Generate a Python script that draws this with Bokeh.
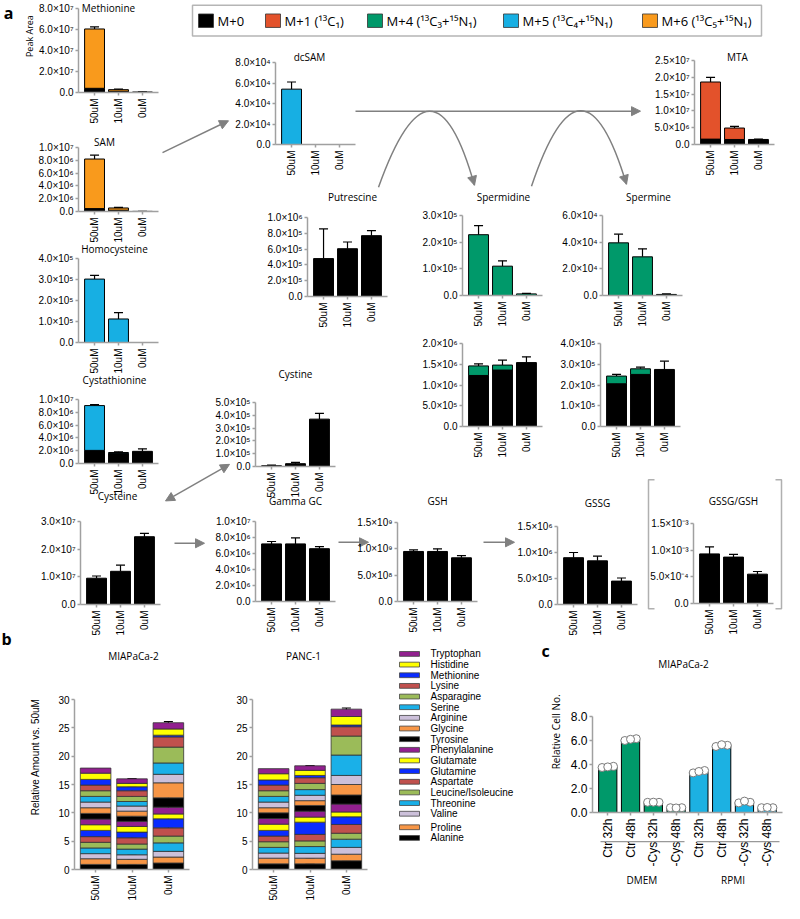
import math
import numpy as np
from bokeh.plotting import figure
from bokeh.models import (GridBox, Range1d, FactorRange, ColumnDataSource, Whisker, TeeHead,
                          FixedTicker, CustomJSTickFormatter, NumeralTickFormatter, Arrow, NormalHead)
from bokeh.transform import dodge
from bokeh.core.properties import value
from bokeh.embed import file_html
from bokeh.resources import INLINE

W, H, OFF = 784, 903, 8
SANS = "Open Sans"
ARIAL = "Liberation Sans"
AXIS_GREY = "#a0a0a0"
ARROW_GREY = "#808080"

# ---------------- data ----------------
conds = ["50uM", "10uM", "0uM"]

iso_keys = ["M0", "M1", "M4", "M5", "M6"]
iso_labels = ["M+0", "M+1 (¹³C₁)", "M+4 (¹³C₃+¹⁵N₁)", "M+5 (¹³C₄+¹⁵N₁)", "M+6 (¹³C₅+¹⁵N₁)"]
iso_colors = ["#000000", "#e3522b", "#00996a", "#17afe3", "#f99a1c"]
ISO = dict(zip(iso_keys, iso_colors))

methionine_m0 = [4.0e6, 1.2e6, 0.5e6]
methionine_m6 = [5.65e7, 1.5e6, 0.0]
methionine_err = [6.25e7, 3.3e6, 0.7e6]

sam_m0 = [4.5e5, 2.0e5, 2.0e4]
sam_m6 = [7.75e6, 3.5e5, 0.0]
sam_err = [8.8e6, 6.3e5, 4.0e4]

homocysteine_m5 = [3.02e5, 1.12e5, 0.0]
homocysteine_err = [3.2e5, 1.42e5, 0.0]

cystathionine_m0 = [2.05e6, 1.55e6, 1.9e6]
cystathionine_m0_err = [2.2e6, 1.7e6, 2.3e6]
cystathionine_m5 = [7.0e6, 0.17e6, 0.0]
cystathionine_err = [9.2e6, 1.82e6, 0.0]

cysteine_m0 = [9.5e6, 1.2e7, 2.45e7]
cysteine_err = [1.03e7, 1.42e7, 2.57e7]

dcsam_m5 = [5.4e4, 0.0, 0.0]
dcsam_err = [6.1e4, 0.0, 0.0]

mta_m0 = [1.6e6, 1.5e6, 1.5e6]
mta_m1 = [1.7e7, 3.4e6, 0.0]
mta_err = [2.0e7, 5.4e6, 1.6e6]

putrescine_m0 = [4.8e5, 6.05e5, 7.7e5]
putrescine_err = [8.55e5, 6.9e5, 8.35e5]

spermidine_m4 = [2.28e5, 1.1e5, 6.0e3]
spermidine_err = [2.62e5, 1.3e5, 8.0e3]

spermine_m4 = [3.95e4, 2.9e4, 8.0e2]
spermine_err = [4.6e4, 3.5e4, 1.2e3]

spermidine_tot_m0 = [1.23e6, 1.36e6, 1.54e6]
spermidine_tot_m0_err = [1.32e6, 1.41e6, 1.68e6]
spermidine_tot_m4 = [2.3e5, 1.2e5, 0.0]
spermidine_tot_err = [1.51e6, 1.6e6, 0.0]

spermine_tot_m0 = [2.06e5, 2.51e5, 2.75e5]
spermine_tot_m0_err = [2.2e5, 2.58e5, 3.15e5]
spermine_tot_m4 = [3.7e4, 2.7e4, 0.0]
spermine_tot_err = [2.51e5, 2.86e5, 0.0]

cystine_m0 = [6.0e3, 2.2e4, 3.7e5]
cystine_err = [1.0e4, 3.2e4, 4.15e5]

gammagc_m0 = [7.2e6, 7.2e6, 6.6e6]
gammagc_err = [7.5e6, 7.95e6, 6.85e6]

gsh_m0 = [9.5e8, 9.5e8, 8.3e8]
gsh_err = [9.8e8, 1.0e9, 8.7e8]

gssg_m0 = [9.0e5, 8.4e5, 4.5e5]
gssg_err = [1.0e6, 9.3e5, 5.1e5]

ratio_m0 = [9.3e-4, 8.7e-4, 5.5e-4]
ratio_err = [1.06e-3, 9.2e-4, 6.0e-4]

# panel b (bottom -> top of the stack)
aa_names = ["Alanine", "Proline", "Valine", "Threonine", "Leucine/Isoleucine", "Aspartate",
            "Glutamine", "Glutamate", "Phenylalanine", "Tyrosine", "Glycine", "Arginine",
            "Serine", "Asparagine", "Lysine", "Methionine", "Histidine", "Tryptophan"]
aa_colors = ["#000000", "#f79646", "#ccc0da", "#1ab0e8", "#9bbb59", "#c0504d",
             "#0a2cff", "#ffff00", "#92208f", "#000000", "#f79646", "#ccc0da",
             "#1ab0e8", "#9bbb59", "#c0504d", "#0a2cff", "#ffff00", "#92208f"]
mia_50uM = [0.9, 1.0, 0.9, 1.0, 1.0, 1.0, 1.1, 1.0, 1.0, 1.0, 1.0, 1.0, 1.0, 1.0, 1.0, 1.0, 1.1, 0.9]
mia_10uM = [0.9, 0.9, 0.8, 1.0, 0.9, 1.1, 1.0, 1.0, 0.9, 0.9, 0.9, 0.9, 0.8, 0.9, 1.0, 0.7, 0.6, 0.8]
mia_0uM = [1.15, 1.05, 1.0, 1.5, 1.2, 1.45, 1.6, 0.85, 1.2, 1.65, 2.65, 1.5, 2.0, 2.8, 1.8, 0.3, 1.1, 1.1]
mia_err_10uM = [0.05, 0.1, 0.1, 0.1, 0.15, 0.15, 0.2, 0.2, 0.2, 0.2, 0.3, 0.5, 0.3, 0.3, 0.3, 0.1, 0.1, 0.05]
mia_err_0uM = [0.1, 0.15, 0.2, 0.2, 0.2, 0.2, 0.3, 0.2, 0.3, 0.2, 0.3, 0.8, 0.3, 0.3, 0.8, 0.2, 0.3, 0.2]
panc_50uM = [1.0, 1.0, 0.9, 1.0, 1.0, 1.0, 1.0, 1.1, 1.0, 1.0, 0.9, 1.0, 1.0, 1.0, 1.0, 0.9, 1.1, 0.9]
panc_10uM = [1.0, 1.0, 0.85, 1.2, 1.0, 1.15, 2.15, 0.9, 1.05, 1.0, 0.85, 0.95, 1.0, 1.1, 1.0, 0.4, 0.9, 0.8]
panc_0uM = [1.55, 1.15, 1.2, 1.45, 1.05, 1.55, 1.35, 0.85, 1.4, 1.6, 1.85, 1.6, 3.6, 3.35, 1.65, 0.3, 1.5, 1.3]
panc_err_10uM = [0.05, 0.1, 0.1, 0.15, 0.1, 0.1, 0.25, 0.4, 0.3, 0.2, 0.2, 0.5, 0.3, 0.4, 0.4, 0.1, 0.1, 0.05]
panc_err_0uM = [0.1, 0.2, 0.2, 0.2, 0.2, 0.2, 0.2, 0.2, 0.2, 0.2, 0.2, 0.3, 0.2, 0.5, 0.7, 0.2, 0.3, 0.2]

# panel c
media = ["DMEM", "RPMI"]
media_colors = ["#00996a", "#1cb1e2"]
c_conds = ["Ctr 32h", "Ctr 48h", "-Cys 32h", "-Cys 48h"]
dmem_mean = [3.78, 6.08, 0.85, 0.38]
dmem_sd = [0.08, 0.07, 0.02, 0.02]
dmem_reps = [[3.75, 3.8, 3.85], [6.0, 6.1, 6.15], [0.85, 0.86, 0.85], [0.4, 0.38, 0.4]]
rpmi_mean = [3.38, 5.6, 0.85, 0.4]
rpmi_sd = [0.12, 0.1, 0.07, 0.02]
rpmi_reps = [[3.3, 3.42, 3.5], [5.5, 5.65, 5.6], [0.8, 0.95, 0.85], [0.4, 0.42, 0.4]]

# ---------------- helpers ----------------
placements = []


def place(obj, x, y, w, h):
    placements.append((obj, x - OFF, y - OFF, w, h))


SCI = CustomJSTickFormatter(code="""
const sup = {"0":"\u2070","1":"\u00b9","2":"\u00b2","3":"\u00b3","4":"\u2074","5":"\u2075",
             "6":"\u2076","7":"\u2077","8":"\u2078","9":"\u2079","-":"\u207b"};
if (Math.abs(tick) < 1e-30) { return "0.0"; }
let e = Math.floor(Math.log10(Math.abs(tick)) + 1e-9);
let m = tick / Math.pow(10, e);
if (m >= 9.95) { m = m / 10; e = e + 1; }
const es = String(e).split("").map(c => sup[c]).join("");
return m.toFixed(1) + "\u00d710" + es;
""")


def new_fig(w, h, xr, yr, L, R, T, B):
    p = figure(width=w, height=h, x_range=xr, y_range=yr, toolbar_location=None,
               output_backend="svg", min_border_left=L, min_border_right=R,
               min_border_top=T, min_border_bottom=B, title=None)
    p.background_fill_alpha = 0
    p.border_fill_alpha = 0
    p.outline_line_color = None
    p.xgrid.visible = False
    p.ygrid.visible = False
    return p


def style_axes(p, fs, font=ARIAL):
    for ax in (p.xaxis[0], p.yaxis[0]):
        ax.axis_line_color = AXIS_GREY
        ax.axis_line_width = 1.5
        ax.major_tick_line_color = AXIS_GREY
        ax.major_tick_line_width = 1.5
        ax.major_tick_in = 0
        ax.major_tick_out = 3
        ax.minor_tick_line_color = None
        ax.major_label_text_font = font
        ax.major_label_text_font_size = f"{fs}px"
        ax.major_label_text_color = "black"
    p.xaxis.major_label_orientation = math.pi / 2
    p.xaxis.major_label_standoff = 3
    p.yaxis.major_label_standoff = 2


def add_err(p, xs, lo, up, size=9, both=False):
    keep = [i for i in range(len(xs)) if up[i] > lo[i]]
    if not keep:
        return
    src = ColumnDataSource(dict(x=[xs[i] for i in keep], lo=[lo[i] for i in keep],
                                up=[up[i] for i in keep]))
    head = dict(size=size, line_color="black", line_width=1.2)
    p.add_layout(Whisker(source=src, base="x", lower="lo", upper="up", dimension="height",
                         line_color="black", line_width=1.2,
                         upper_head=TeeHead(**head),
                         lower_head=TeeHead(**head) if both else None))


# chart specs: segments bottom->top (values, isotopologue, error-bar top)
charts = [
    dict(title="Methionine", segs=[(methionine_m0, "M0", None), (methionine_m6, "M6", methionine_err)],
         ymax=8e7, step=2e7, ax=86, top=16, zero=100, tdx=-10, tdy=0),
    dict(title="SAM", segs=[(sam_m0, "M0", None), (sam_m6, "M6", sam_err)],
         ymax=1e7, step=2e6, ax=86, top=155, zero=219, tdx=-14, tdy=0),
    dict(title="Homocysteine", segs=[(homocysteine_m5, "M5", homocysteine_err)],
         ymax=4e5, step=1e5, ax=86, top=266, zero=350, tdx=-4, tdy=0),
    dict(title="Cystathionine", segs=[(cystathionine_m0, "M0", cystathionine_m0_err),
                                      (cystathionine_m5, "M5", cystathionine_err)],
         ymax=1e7, step=2e6, ax=86, top=407, zero=471, tdx=-4, tdy=-5),
    dict(title="Cysteine", segs=[(cysteine_m0, "M0", cysteine_err)],
         ymax=3e7, step=1e7, ax=88, top=529, zero=612, tdx=-3, tdy=-6),
    dict(title="dcSAM", segs=[(dcsam_m5, "M5", dcsam_err)],
         ymax=8e4, step=2e4, ax=283, top=70, zero=152, tdx=-6, tdy=-3),
    dict(title="MTA", segs=[(mta_m0, "M0", None), (mta_m1, "M1", mta_err)],
         ymax=2.5e7, step=5e6, ax=702, top=68, zero=152, tdx=3, tdy=-1),
    dict(title="Putrescine", segs=[(putrescine_m0, "M0", putrescine_err)],
         ymax=1e6, step=2e5, ax=315, top=225, zero=304, tdx=5, tdy=-13),
    dict(title="Spermidine", segs=[(spermidine_m4, "M4", spermidine_err)],
         ymax=3e5, step=1e5, ax=470, top=223, zero=303, tdx=1, tdy=-11),
    dict(title="Spermine", segs=[(spermine_m4, "M4", spermine_err)],
         ymax=6e4, step=2e4, ax=610, top=223, zero=303, tdx=6, tdy=-11),
    dict(title=None, segs=[(spermidine_tot_m0, "M0", spermidine_tot_m0_err),
                           (spermidine_tot_m4, "M4", spermidine_tot_err)],
         ymax=2e6, step=5e5, ax=470, top=351, zero=434),
    dict(title=None, segs=[(spermine_tot_m0, "M0", spermine_tot_m0_err),
                           (spermine_tot_m4, "M4", spermine_tot_err)],
         ymax=4e5, step=1e5, ax=608, top=351, zero=434),
    dict(title="Cystine", segs=[(cystine_m0, "M0", cystine_err)],
         ymax=5e5, step=1e5, ax=263, top=410, zero=474, tdx=0, tdy=-14),
    dict(title="Gamma GC", segs=[(gammagc_m0, "M0", gammagc_err)],
         ymax=1e7, step=2e6, ax=263, top=529, zero=609, tdx=0, tdy=-1),
    dict(title="GSH", segs=[(gsh_m0, "M0", gsh_err)],
         ymax=1.5e9, step=5e8, ax=405, top=530, zero=609, tdx=0, tdy=-2),
    dict(title="GSSG", segs=[(gssg_m0, "M0", gssg_err)],
         ymax=1.5e6, step=5e5, ax=565, top=534, zero=612, tdx=0, tdy=-4),
    dict(title="GSSG/GSH", segs=[(ratio_m0, "M0", ratio_err)],
         ymax=1.5e-3, step=5e-4, ax=701, top=531, zero=611, tdx=0, tdy=-3),
]

FW = 80


def build_small(spec):
    L, R, T, B = 56, 6, 6, 36
    fh = spec["zero"] - spec["top"]
    xr = FactorRange(*conds, range_padding=0.17, range_padding_units="absolute")
    p = new_fig(L + FW + R, T + fh + B, xr, Range1d(0, spec["ymax"]), L, R, T, B)
    style_axes(p, 10)
    n = int(round(spec["ymax"] / spec["step"]))
    p.yaxis.ticker = FixedTicker(ticks=[spec["step"] * i for i in range(n + 1)])
    p.yaxis.formatter = SCI
    bottoms = np.zeros(3)
    for vals, key, err in spec["segs"]:
        vals = np.array(vals, dtype=float)
        tops = bottoms + vals
        idx = [i for i in range(3) if vals[i] > 0]
        src = ColumnDataSource(dict(x=[conds[i] for i in idx], b=[bottoms[i] for i in idx],
                                    t=[tops[i] for i in idx]))
        p.vbar(x="x", bottom="b", top="t", width=0.83, fill_color=ISO[key],
               line_color="black", line_width=1, source=src)
        if err is not None:
            add_err(p, conds, list(tops), list(err))
        bottoms = tops
    place(p, spec["ax"] - L, spec["top"] - T, L + FW + R, T + fh + B)


for spec in charts:
    build_small(spec)


# ---------------- panel b ----------------
def build_b(vals50, vals10, vals0, err10, err0, ax, top, zero, fw):
    L, R, T, B = 30, 4, 6, 34
    fh = zero - top
    xr = FactorRange(*conds, range_padding=0.08, range_padding_units="absolute")
    p = new_fig(L + fw + R, T + fh + B, xr, Range1d(0, 30), L, R, T, B)
    style_axes(p, 10)
    p.yaxis.ticker = FixedTicker(ticks=[0, 5, 10, 15, 20, 25, 30])
    keys = [f"a{i}" for i in range(len(aa_names))]
    data = {"x": conds}
    for i, k in enumerate(keys):
        data[k] = [vals50[i], vals10[i], vals0[i]]
    src = ColumnDataSource(data)
    p.vbar_stack(keys, x="x", width=0.84, fill_color=aa_colors, line_color="#333333",
                 line_width=0.8, source=src)
    for cond, vals, err in (("10uM", vals10, err10), ("0uM", vals0, err0)):
        cum = np.cumsum(vals)
        xs = [cond] * len(vals)
        add_err(p, xs, list(cum - np.array(err)), list(cum + np.array(err)), size=9, both=True)
    place(p, ax - L, top - T, L + fw + R, T + fh + B)


build_b(mia_50uM, mia_10uM, mia_0uM, mia_err_10uM, mia_err_0uM, ax=82, top=707, zero=877, fw=115)
build_b(panc_50uM, panc_10uM, panc_0uM, panc_err_10uM, panc_err_0uM, ax=260, top=707, zero=877, fw=115)

# ---------------- panel c ----------------
c_ax, c_top, c_zero, c_fw = 600, 724, 820, 190
L, R, T, B = 40, 1, 6, 78
factors = [(m, c) for m in media for c in c_conds]
xr_c = FactorRange(*factors, factor_padding=0, group_padding=0, subgroup_padding=0,
                   range_padding=0.17, range_padding_units="absolute")
pc = new_fig(L + c_fw + R, T + (c_zero - c_top) + B, xr_c, Range1d(0, 8), L, R, T, B)
style_axes(pc, 12)
pc.yaxis.ticker = FixedTicker(ticks=[0, 2, 4, 6, 8])
pc.yaxis.formatter = NumeralTickFormatter(format="0.0")
pc.xaxis.group_text_font = SANS
pc.xaxis.group_text_font_size = "10px"
pc.xaxis.group_text_font_style = "normal"
pc.xaxis.group_text_color = "black"
pc.xaxis.separator_line_color = None
means = dmem_mean + rpmi_mean
sds = dmem_sd + rpmi_sd
reps = dmem_reps + rpmi_reps
cols = [media_colors[0]] * 4 + [media_colors[1]] * 4
src_c = ColumnDataSource(dict(x=factors, mean=means, color=cols,
                              lo=[m - s for m, s in zip(means, sds)],
                              up=[m + s for m, s in zip(means, sds)],
                              r0=[r[0] for r in reps], r1=[r[2] for r in reps], r2=[r[1] for r in reps]))
pc.vbar(x="x", top="mean", width=0.8, fill_color="color", line_color="black", line_width=1, source=src_c)
for col, off in (("r0", -0.25), ("r1", 0.25), ("r2", 0.0)):
    pc.scatter(x=dodge("x", off, range=xr_c), y=col, size=8, fill_color="white",
               line_color="#7a7a7a", line_width=1, source=src_c)
pc.add_layout(Whisker(source=src_c, base="x", lower="lo", upper="up", line_color="black",
                      line_width=1.2, upper_head=TeeHead(size=6, line_width=1.2),
                      lower_head=TeeHead(size=6, line_width=1.2)))
place(pc, c_ax - L, c_top - T, L + c_fw + R, T + (c_zero - c_top) + B)

# ---------------- background canvas (labels, arrows, legends) ----------------
bg = figure(width=W, height=H, x_range=Range1d(OFF, OFF + W), y_range=Range1d(OFF + H, OFF),
            x_axis_type=None, y_axis_type=None, toolbar_location=None, output_backend="svg",
            min_border=0, title=None)
bg.outline_line_color = None
bg.background_fill_color = "white"
bg.border_fill_color = "white"


def add_text(xs, ys, texts, size, font=SANS, align="center", baseline="middle", angle=0.0,
             style="normal", color="black"):
    bg.text(x=xs, y=ys, text=texts, text_font=value(font), text_font_size=value(f"{size}px"),
            text_align=align, text_baseline=baseline, angle=angle, text_font_style=style,
            text_color=color)


# panel letters
add_text([16], [10], ["a"], 16, style="bold", baseline="top")
add_text([14, 553], [671, 684], ["b", "c"], 16, style="bold")

# chart titles
tx, ty, tt = [], [], []
for spec in charts:
    if spec["title"]:
        tx.append(spec["ax"] + FW / 2 + spec["tdx"])
        ty.append(spec["top"] + spec["tdy"])
        tt.append(spec["title"])
add_text(tx, ty, tt, 10)
add_text([141, 311], [689, 689], ["MIAPaCa-2", "PANC-1"], 10)
add_text([691], [697], ["MIAPaCa-2"], 10)

# axis titles
add_text([37], [45], ["Peak Area"], 9, angle=math.pi / 2)
add_text([43], [794], ["Relative Amount vs. 50uM"], 10, font=ARIAL, angle=math.pi / 2)
add_text([563], [768], ["Relative Cell No."], 10, angle=math.pi / 2)

# isotopologue legend
bg.quad(left=[200], right=[769], top=[13], bottom=[45], fill_color=None,
        line_color="#b5b5b5", line_width=1.5)
sw_x = [206, 273, 375, 511, 650]
bg.rect(x=[x + 7.5 for x in sw_x], y=[29] * 5, width=15, height=14, fill_color=iso_colors,
        line_color="#333333", line_width=0.8)
add_text([x + 19 for x in sw_x], [29] * 5, iso_labels, 13, align="left")

# amino acid legend (panel b), listed top -> bottom
leg_names = aa_names[::-1]
leg_cols = aa_colors[::-1]
leg_y = [687 + 11.07 * i + (3 if i >= 16 else 0) for i in range(len(leg_names))]
bg.rect(x=[417] * len(leg_names), y=leg_y, width=20, height=5, fill_color=leg_cols,
        line_color="#444444", line_width=0.8)
add_text([438] * len(leg_names), leg_y, leg_names, 10, font=ARIAL, align="left")


# arrows
def arrow(x0, y0, x1, y1, both=False, line=True):
    head = dict(size=9, fill_color=ARROW_GREY, line_color=ARROW_GREY, line_width=1)
    bg.add_layout(Arrow(x_start=x0, y_start=y0, x_end=x1, y_end=y1,
                        end=NormalHead(**head), start=NormalHead(**head) if both else None,
                        line_color=ARROW_GREY, line_width=1.5, line_alpha=1 if line else 0))


arrow(170, 166, 236, 133)            # SAM -> dcSAM
arrow(363, 123, 648, 123)            # dcSAM -> MTA
arrow(173, 528, 237, 490, both=True)  # Cysteine <-> Cystine
arrow(182, 572, 212, 572)            # Cysteine -> Gamma GC
arrow(346, 571, 376, 571)            # Gamma GC -> GSH
arrow(491, 571, 522, 571)            # GSH -> GSSG

# curved arrows (putrescine -> spermidine -> spermine)
arc_x0, arc_y0 = [386, 539], [202, 201]
arc_x1, arc_y1 = [482, 634], [200, 199]
arc_cx, arc_cy = [440, 589.5], [45, 45]
bg.quadratic(x0=arc_x0, y0=arc_y0, x1=arc_x1, y1=arc_y1, cx=arc_cx, cy=arc_cy,
             line_color=ARROW_GREY, line_width=1.5)
for x0, y0, cx, cy in zip(arc_x1, arc_y1, arc_cx, arc_cy):
    dx, dy = x0 - cx, y0 - cy
    n = math.hypot(dx, dy)
    arrow(x0 - 6 * dx / n, y0 - 6 * dy / n, x0, y0, line=False)

# bracket around GSSG/GSH
bg.line(x=[662, 656, 656, 662], y=[506, 506, 640, 640], line_color="#b0b0b0", line_width=1.5)
bg.line(x=[783, 789, 789, 783], y=[506, 506, 640, 640], line_color="#b0b0b0", line_width=1.5)

# group underlines panel c
bg.segment(x0=[608, 704], y0=[882, 882], x1=[692, 787], y1=[882, 882],
           line_color="#999999", line_width=1.2)

# ---------------- assemble ----------------
all_items = [(bg, 0, 0, W, H)] + placements
xs = sorted({max(0, min(W, v)) for _, x, y, w, h in all_items for v in (x, x + w)} | {0, W})
ys = sorted({max(0, min(H, v)) for _, x, y, w, h in all_items for v in (y, y + h)} | {0, H})
cols_t = [f"{b - a}px" for a, b in zip(xs[:-1], xs[1:])]
rows_t = [f"{b - a}px" for a, b in zip(ys[:-1], ys[1:])]
children = []
for obj, x, y, w, h in all_items:
    x0, x1 = max(0, min(W, x)), max(0, min(W, x + w))
    y0, y1 = max(0, min(H, y)), max(0, min(H, y + h))
    c0, c1 = xs.index(x0), xs.index(x1)
    r0, r1 = ys.index(y0), ys.index(y1)
    children.append((obj, r0, c0, r1 - r0, c1 - c0))

grid = GridBox(children=children, rows=rows_t, cols=cols_t, width=W, height=H, spacing=0)

open("out.html", "w").write(file_html(grid, INLINE, title="Figure"))
